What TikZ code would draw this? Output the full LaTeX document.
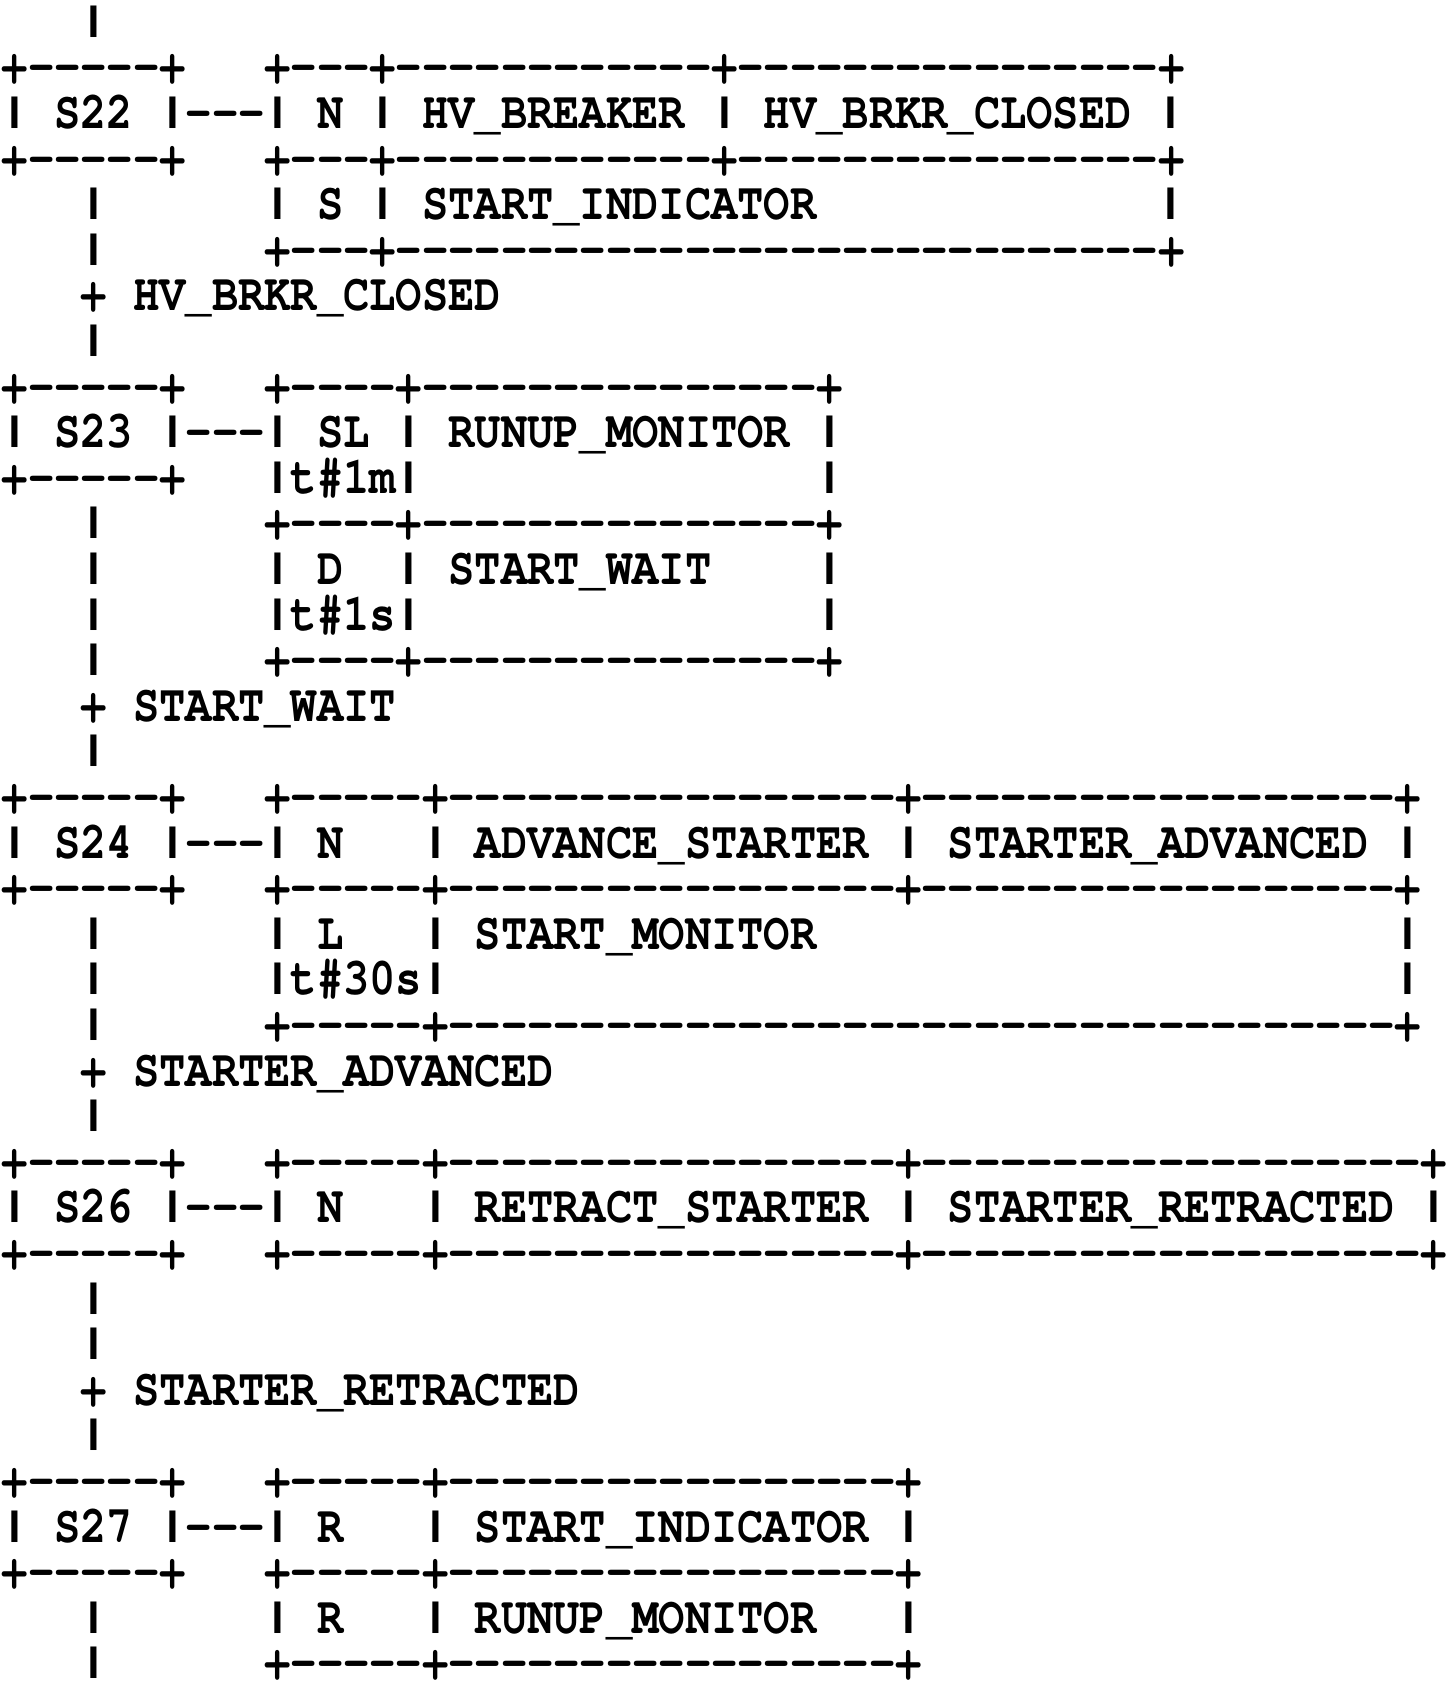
\documentclass[tikz,border=0pt]{standalone}
\usepackage{fontspec}
\setmonofont{TeX Gyre Cursor}
\usetikzlibrary{positioning}

\tikzset{
  row/.style={anchor=base west, inner sep=0pt, outer sep=0pt,
    font=\ttfamily\bfseries\fontsize{43.8}{44}\selectfont}
}
% a bar that stands on the baseline and is as tall as the capitals
\newcommand{\vbar}{\makebox[0.6em][c]{\makebox[0pt][c]{\resizebox{1.4\width}{0.6em}{\raisebox{\depth}{\textbar}}}}}
% one line of the listing, k = line number from the top
\ExplSyntaxOn
\tl_new:N \l__row_text_tl
\NewDocumentCommand \asciirow { m m m }
  {
    \tl_set:Nn \l__row_text_tl {#3}
    \tl_replace_all:Nnn \l__row_text_tl { | } { \vbar }
    \node[row]~(#1)~at~(1.8,{37.3+(#2-1)*45.6})~{\scalebox{1}[1.2]{\l__row_text_tl}};
  }
\ExplSyntaxOff

\begin{document}
\begin{tikzpicture}[x=1pt,y=-1pt]
  \useasboundingbox (0,0) rectangle (1451,1687);
  % step S22
  \asciirow{l1}{1}{~~~|}
  \asciirow{l2}{2}{+-----+~~~+---+------------+----------------+}
  \asciirow{l3}{3}{|~S22~|---|~N~|~HV\_BREAKER~|~HV\_BRKR\_CLOSED~|}
  \asciirow{l4}{4}{+-----+~~~+---+------------+----------------+}
  \asciirow{l5}{5}{~~~|~~~~~~|~S~|~START\_INDICATOR~~~~~~~~~~~~~|}
  \asciirow{l6}{6}{~~~|~~~~~~+---+-----------------------------+}
  \asciirow{l7}{7}{~~~+~HV\_BRKR\_CLOSED}
  \asciirow{l8}{8}{~~~|}
  % step S23
  \asciirow{l9}{9}{+-----+~~~+----+---------------+}
  \asciirow{l10}{10}{|~S23~|---|~SL~|~RUNUP\_MONITOR~|}
  \asciirow{l11}{11}{+-----+~~~|t\#1m|~~~~~~~~~~~~~~~|}
  \asciirow{l12}{12}{~~~|~~~~~~+----+---------------+}
  \asciirow{l13}{13}{~~~|~~~~~~|~D~~|~START\_WAIT~~~~|}
  \asciirow{l14}{14}{~~~|~~~~~~|t\#1s|~~~~~~~~~~~~~~~|}
  \asciirow{l15}{15}{~~~|~~~~~~+----+---------------+}
  \asciirow{l16}{16}{~~~+~START\_WAIT}
  \asciirow{l17}{17}{~~~|}
  % step S24
  \asciirow{l18}{18}{+-----+~~~+-----+-----------------+------------------+}
  \asciirow{l19}{19}{|~S24~|---|~N~~~|~ADVANCE\_STARTER~|~STARTER\_ADVANCED~|}
  \asciirow{l20}{20}{+-----+~~~+-----+-----------------+------------------+}
  \asciirow{l21}{21}{~~~|~~~~~~|~L~~~|~START\_MONITOR~~~~~~~~~~~~~~~~~~~~~~|}
  \asciirow{l22}{22}{~~~|~~~~~~|t\#30s|~~~~~~~~~~~~~~~~~~~~~~~~~~~~~~~~~~~~|}
  \asciirow{l23}{23}{~~~|~~~~~~+-----+------------------------------------+}
  \asciirow{l24}{24}{~~~+~STARTER\_ADVANCED}
  \asciirow{l25}{25}{~~~|}
  % step S26
  \asciirow{l26}{26}{+-----+~~~+-----+-----------------+-------------------+}
  \asciirow{l27}{27}{|~S26~|---|~N~~~|~RETRACT\_STARTER~|~STARTER\_RETRACTED~|}
  \asciirow{l28}{28}{+-----+~~~+-----+-----------------+-------------------+}
  \asciirow{l29}{29}{~~~|}
  \asciirow{l30}{30}{~~~|}
  \asciirow{l31}{31}{~~~+~STARTER\_RETRACTED}
  \asciirow{l32}{32}{~~~|}
  % step S27
  \asciirow{l33}{33}{+-----+~~~+-----+-----------------+}
  \asciirow{l34}{34}{|~S27~|---|~R~~~|~START\_INDICATOR~|}
  \asciirow{l35}{35}{+-----+~~~+-----+-----------------+}
  \asciirow{l36}{36}{~~~|~~~~~~|~R~~~|~RUNUP\_MONITOR~~~|}
  \asciirow{l37}{37}{~~~|~~~~~~+-----+-----------------+}
\end{tikzpicture}
\end{document}
